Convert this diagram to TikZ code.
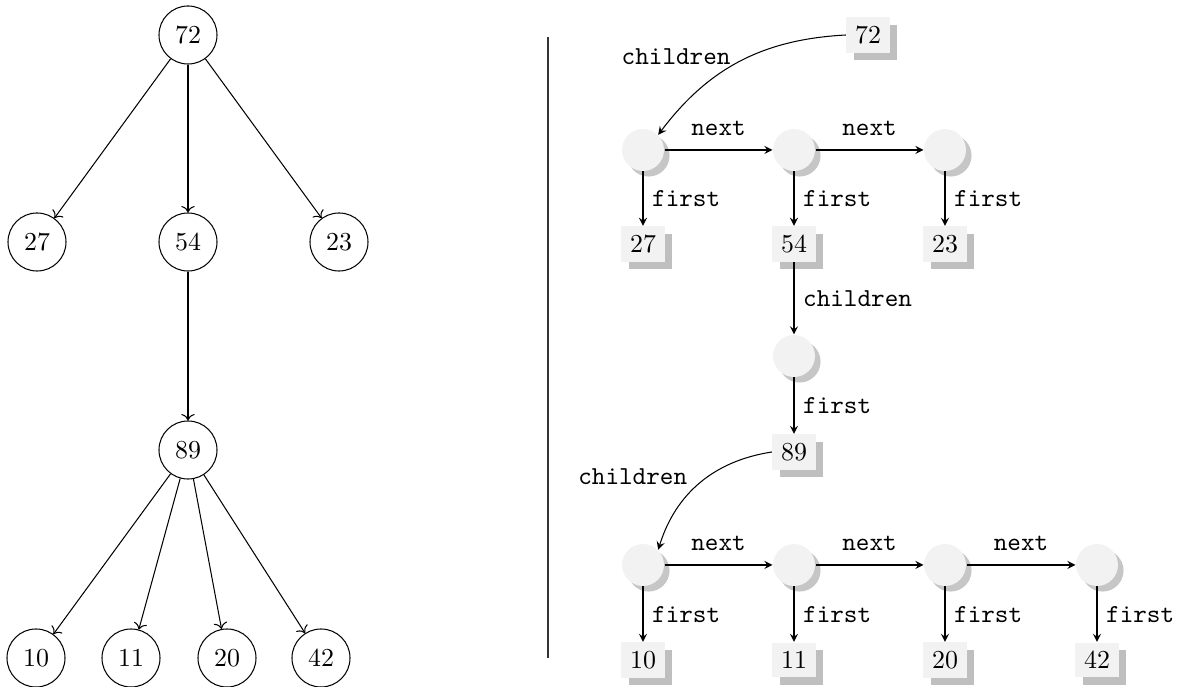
\documentclass[tikz,border=0pt]{standalone}
\usetikzlibrary{shadows,arrows.meta}
\begin{document}
\begin{tikzpicture}[x=0.386pt,y=-0.386pt,
  tnode/.style={circle,draw,minimum size=22.4pt,inner sep=0pt},
  lnode/.style={circle,fill=gray!10,minimum size=16.2pt,inner sep=0pt,drop shadow={opacity=0.45}},
  vnode/.style={rectangle,fill=gray!10,inner sep=3.33pt,minimum width=16.6pt,minimum height=13.5pt,
    general shadow={fill=gray!50,shadow xshift=3pt,shadow yshift=-3pt}},
  tedge/.style={->},
  ledge/.style={-stealth},
  lab/.style={font=\ttfamily}]
\useasboundingbox (0,0) rectangle (1179,687);
% left tree
\node[tnode] (t72) at (188,35) {72};
\node[tnode] (t27) at (37,242) {27};
\node[tnode] (t54) at (188,242) {54};
\node[tnode] (t23) at (339,242) {23};
\node[tnode] (t89) at (188,450) {89};
\node[tnode] (t10) at (36,658) {10};
\node[tnode] (t11) at (131,658) {11};
\node[tnode] (t20) at (227,658) {20};
\node[tnode] (t42) at (321,658) {42};
\foreach \c in {t27,t54,t23} \draw[tedge] (t72) -- (\c);
\draw[tedge] (t54) -- (t89);
\foreach \c in {t10,t11,t20,t42} \draw[tedge] (t89) -- (\c);
% separator
\coordinate (s1) at (548,37);
\coordinate (s2) at (548,658);
\draw[black!80] (s1) -- (s2);
% right: linked representation
\node[vnode] (r72) at (868,35) {72};
\node[lnode] (a1) at (643,150) {};
\node[lnode] (a2) at (794,150) {};
\node[lnode] (a3) at (945,150) {};
\node[vnode] (r27) at (643,244) {27};
\node[vnode] (r54) at (794,244) {54};
\node[vnode] (r23) at (945,244) {23};
\node[lnode] (b1) at (794,356) {};
\node[vnode] (r89) at (794,452) {89};
\node[lnode] (c1) at (643,565) {};
\node[lnode] (c2) at (794,565) {};
\node[lnode] (c3) at (945,565) {};
\node[lnode] (c4) at (1097,565) {};
\node[vnode] (r10) at (643,660) {10};
\node[vnode] (r11) at (794,660) {11};
\node[vnode] (r20) at (945,660) {20};
\node[vnode] (r42) at (1097,660) {42};

\draw[ledge] (r72.west) to[bend right=25] node[midway,left,lab,yshift=2pt] {children} (a1.north east);
\draw[ledge] (a1) -- node[above=2pt,lab] {next} (a2);
\draw[ledge] (a2) -- node[above=2pt,lab] {next} (a3);
\draw[ledge] (a1) -- node[right,lab] {first} (r27);
\draw[ledge] (a2) -- node[right,lab] {first} (r54);
\draw[ledge] (a3) -- node[right,lab] {first} (r23);
\draw[ledge] (r54) -- node[right,lab] {children} (b1);
\draw[ledge] (b1) -- node[right,lab] {first} (r89);
\draw[ledge] (r89.west) to[bend right=32] node[pos=0.4,left,lab,xshift=-6pt,yshift=-1pt] {children} (c1.north east);
\draw[ledge] (c1) -- node[above=2pt,lab] {next} (c2);
\draw[ledge] (c2) -- node[above=2pt,lab] {next} (c3);
\draw[ledge] (c3) -- node[above=2pt,lab] {next} (c4);
\draw[ledge] (c1) -- node[right,lab] {first} (r10);
\draw[ledge] (c2) -- node[right,lab] {first} (r11);
\draw[ledge] (c3) -- node[right,lab] {first} (r20);
\draw[ledge] (c4) -- node[right,lab] {first} (r42);
\end{tikzpicture}
\end{document}
